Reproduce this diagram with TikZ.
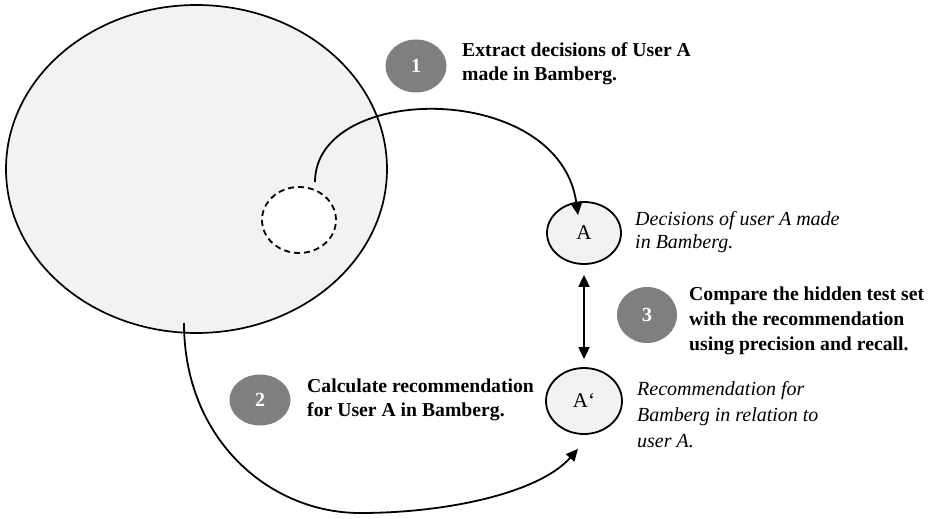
\documentclass[tikz,border=0pt]{standalone}
\usepackage{fontspec}
\setmainfont{Liberation Serif}
\usetikzlibrary{shapes.geometric,arrows.meta,calc}
\definecolor{lightfill}{HTML}{F2F2F2}
\definecolor{stepgray}{HTML}{7F7F7F}
\tikzset{
  conn/.style={line width=1.8pt, -{Triangle[length=12pt,width=11pt]}},
  dconn/.style={line width=1.8pt, {Triangle[length=12pt,width=11pt]}-{Triangle[length=12pt,width=11pt]}},
  stepnum/.style={ellipse, fill=stepgray, inner sep=0pt, text=white, font=\fontsize{20}{22}\selectfont\bfseries},
  usernode/.style={ellipse, draw, line width=1.8pt, fill=lightfill, inner sep=0pt, font=\fontsize{21}{23}\selectfont},
  boldtext/.style={anchor=north west, inner sep=0pt, align=left, font=\fontsize{19.7}{24}\selectfont\bfseries},
  itext/.style={anchor=north west, inner sep=0pt, align=left, font=\fontsize{20}{24}\selectfont\itshape},
}
\begin{document}
\begin{tikzpicture}[x=1pt,y=-1pt]
\useasboundingbox (0,0) rectangle (932,519);
% large set
\node[ellipse, draw, line width=1.7pt, fill=lightfill, minimum width=381pt, minimum height=328pt, inner sep=0pt] (world) at (196.5,169) {};
\node[ellipse, draw, dashed, dash pattern=on 6pt off 4pt, line width=1.8pt, fill=white, minimum width=74pt, minimum height=66pt, inner sep=0pt] (hidden) at (299,220) {};
% user nodes
\node[usernode, minimum width=74pt, minimum height=62pt] (A) at (584,233) {A};
\node[usernode, minimum width=76pt, minimum height=66pt] (Ap) at (584,401) {A‘};
% step markers
\node[stepnum, minimum width=61pt, minimum height=53pt] (s1) at (416,66) {1};
\node[stepnum, minimum width=61pt, minimum height=51pt] (s2) at (260,400) {2};
\node[stepnum, minimum width=60pt, minimum height=56pt] (s3) at (647,315) {3};
% texts
\node[boldtext] (t1) at (462,42) {Extract decisions of User A\\made in Bamberg.};
\node[boldtext] (t2) at (307,379) {Calculate recommendation\\for User A in Bamberg.};
\node[boldtext, font=\fontsize{19.7}{25}\selectfont\bfseries] (t3) at (689,287) {Compare the hidden test set\\with the recommendation\\using precision and recall.};
\node[itext, font=\fontsize{20}{23.5}\selectfont\itshape] (ta) at (635,211) {Decisions of user A made\\in Bamberg.};
\node[itext, font=\fontsize{20}{26}\selectfont\itshape] (tap) at (637,381) {Recommendation for\\Bamberg in relation to\\user A.};
% connectors
\coordinate (c1s) at (315,182);
\coordinate (c1e) at ($(A.north)+(-6,14)$);
\draw[conn] (c1s) .. controls (315,82) and (560,80) .. (c1e);
\coordinate (c2s) at (184,323);
\coordinate (c2m) at (360,513);
\coordinate (c2e) at ($(Ap.south)+(-6,14)$);
\draw[conn] (c2s) .. controls (184,440) and (270,513) .. (c2m) .. controls (450,513) and (540,492) .. (c2e);
\draw[dconn, shorten <=10pt, shorten >=8pt] (A) -- (Ap);
\end{tikzpicture}
\end{document}
